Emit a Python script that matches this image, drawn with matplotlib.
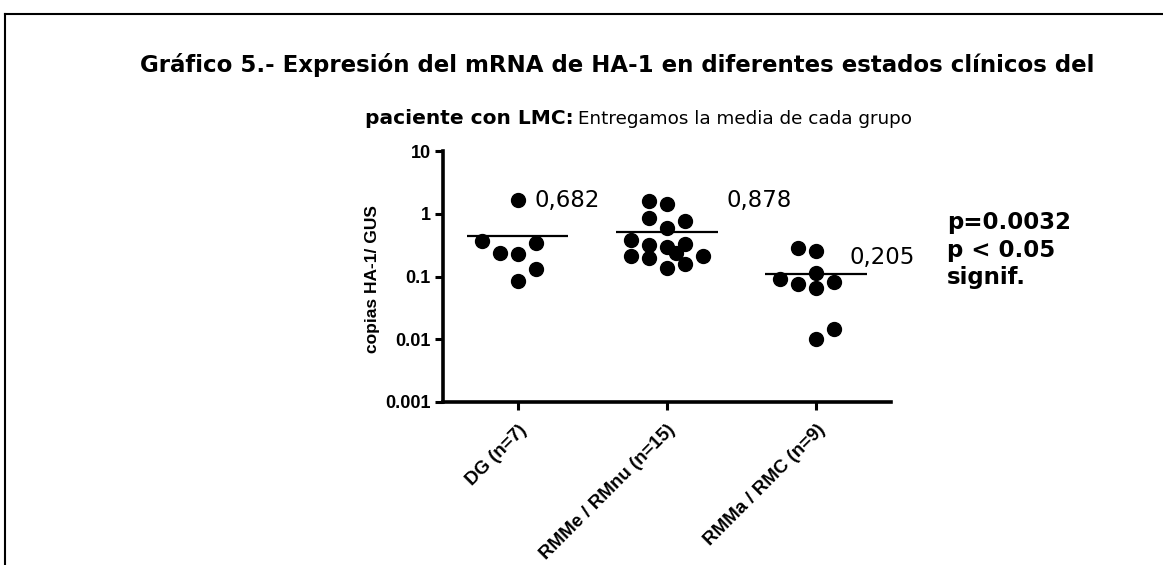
import matplotlib.pyplot as plt
import numpy as np

grupos = ['DG (n=7)', 'RMMe / RMnu (n=15)', 'RMMa / RMC (n=9)']

# copias HA-1/GUS por paciente
dg = [1.67, 0.374, 0.235, 0.226, 0.343, 0.133, 0.0857]
rmme = [1.61, 1.45, 0.853, 0.764, 0.59, 0.379, 0.323, 0.30, 0.335,
        0.215, 0.198, 0.238, 0.215, 0.138, 0.158]
rmma = [0.286, 0.259, 0.112, 0.0912, 0.0759, 0.0647, 0.0817, 0.0148, 0.0102]

# columna de cada punto dentro del grupo (para que no se solapen)
dg_col = [0, -2, -1, 0, 1, 1, 0]
rmme_col = [-1, 0, -1, 1, 0, -2, -1, 0, 1, -2, -1, 0.5, 2, 0, 1]
rmma_col = [-1, 0, 0, -2, -1, 0, 1, 1, 0]

medias_txt = ['0,682', '0,878', '0,205']

valores = [dg, rmme, rmma]
columnas = [dg_col, rmme_col, rmma_col]

fig = plt.figure(figsize=(11.63, 5.65), dpi=100)
ax = fig.add_axes([0.381, 0.2885, 0.385, 0.4442])

paso = 0.121
for i, (v, c) in enumerate(zip(valores, columnas)):
    x = i + np.array(c) * paso
    ax.plot(x, v, 'o', color='black', ms=10, mec='black')
    ax.hlines(np.mean(v), i - 0.34, i + 0.34, color='black', lw=1.6)

ax.set_yscale('log')
ax.set_ylim(0.001, 10)
ax.set_xlim(-0.5, 2.5)
ax.set_yticks([0.001, 0.01, 0.1, 1, 10])
ax.set_yticklabels(['0.001', '0.01', '0.1', '1', '10'])
ax.minorticks_off()
ax.set_xticks(range(3))
ax.set_xticklabels(grupos, rotation=45, ha='right', rotation_mode='anchor',
                   family='Liberation Sans', fontweight='bold', fontsize=13.5)
for t in ax.get_yticklabels():
    t.set_family('Liberation Sans')
    t.set_fontweight('bold')
    t.set_fontsize(13)
ax.tick_params(width=2.2, length=6, pad=3)
ax.tick_params(axis='x', pad=8)
ax.spines['top'].set_visible(False)
ax.spines['right'].set_visible(False)
ax.spines['left'].set_linewidth(2.6)
ax.spines['bottom'].set_linewidth(2.6)
ax.set_ylabel('copias HA-1/ GUS', family='Liberation Sans', fontweight='bold',
              fontsize=12.5)
ax.yaxis.set_label_coords(-0.142, 0.49)

# valores de la media
ax.text(0.11, 1.6, medias_txt[0], fontsize=16.5, va='center')
ax.text(1.4, 1.6, medias_txt[1], fontsize=16.5, va='center')
ax.text(2.22, 0.2, medias_txt[2], fontsize=16.5, va='center')

fig.text(0.814, 0.5575, 'p=0.0032\np < 0.05\nsignif.', fontsize=16.5,
         fontweight='bold', va='center', linespacing=1.23)

# titulo
fig.text(0.531, 0.885, 'Gráfico 5.- Expresión del mRNA de HA-1 en diferentes estados clínicos del',
         fontsize=16.5, fontweight='bold', ha='center', va='center')
fig.text(0.3138, 0.79, 'paciente con LMC:', fontsize=14.5, fontweight='bold',
         ha='left', va='center')
fig.text(0.497, 0.79, 'Entregamos la media de cada grupo', fontsize=13.2,
         ha='left', va='center')

# marco
fig.add_artist(plt.Line2D([0.0045, 0.0045], [0, 0.975], color='black', lw=1.5))
fig.add_artist(plt.Line2D([0.0045, 1], [0.975, 0.975], color='black', lw=1.5))

fig.savefig('out.png', dpi=100)
